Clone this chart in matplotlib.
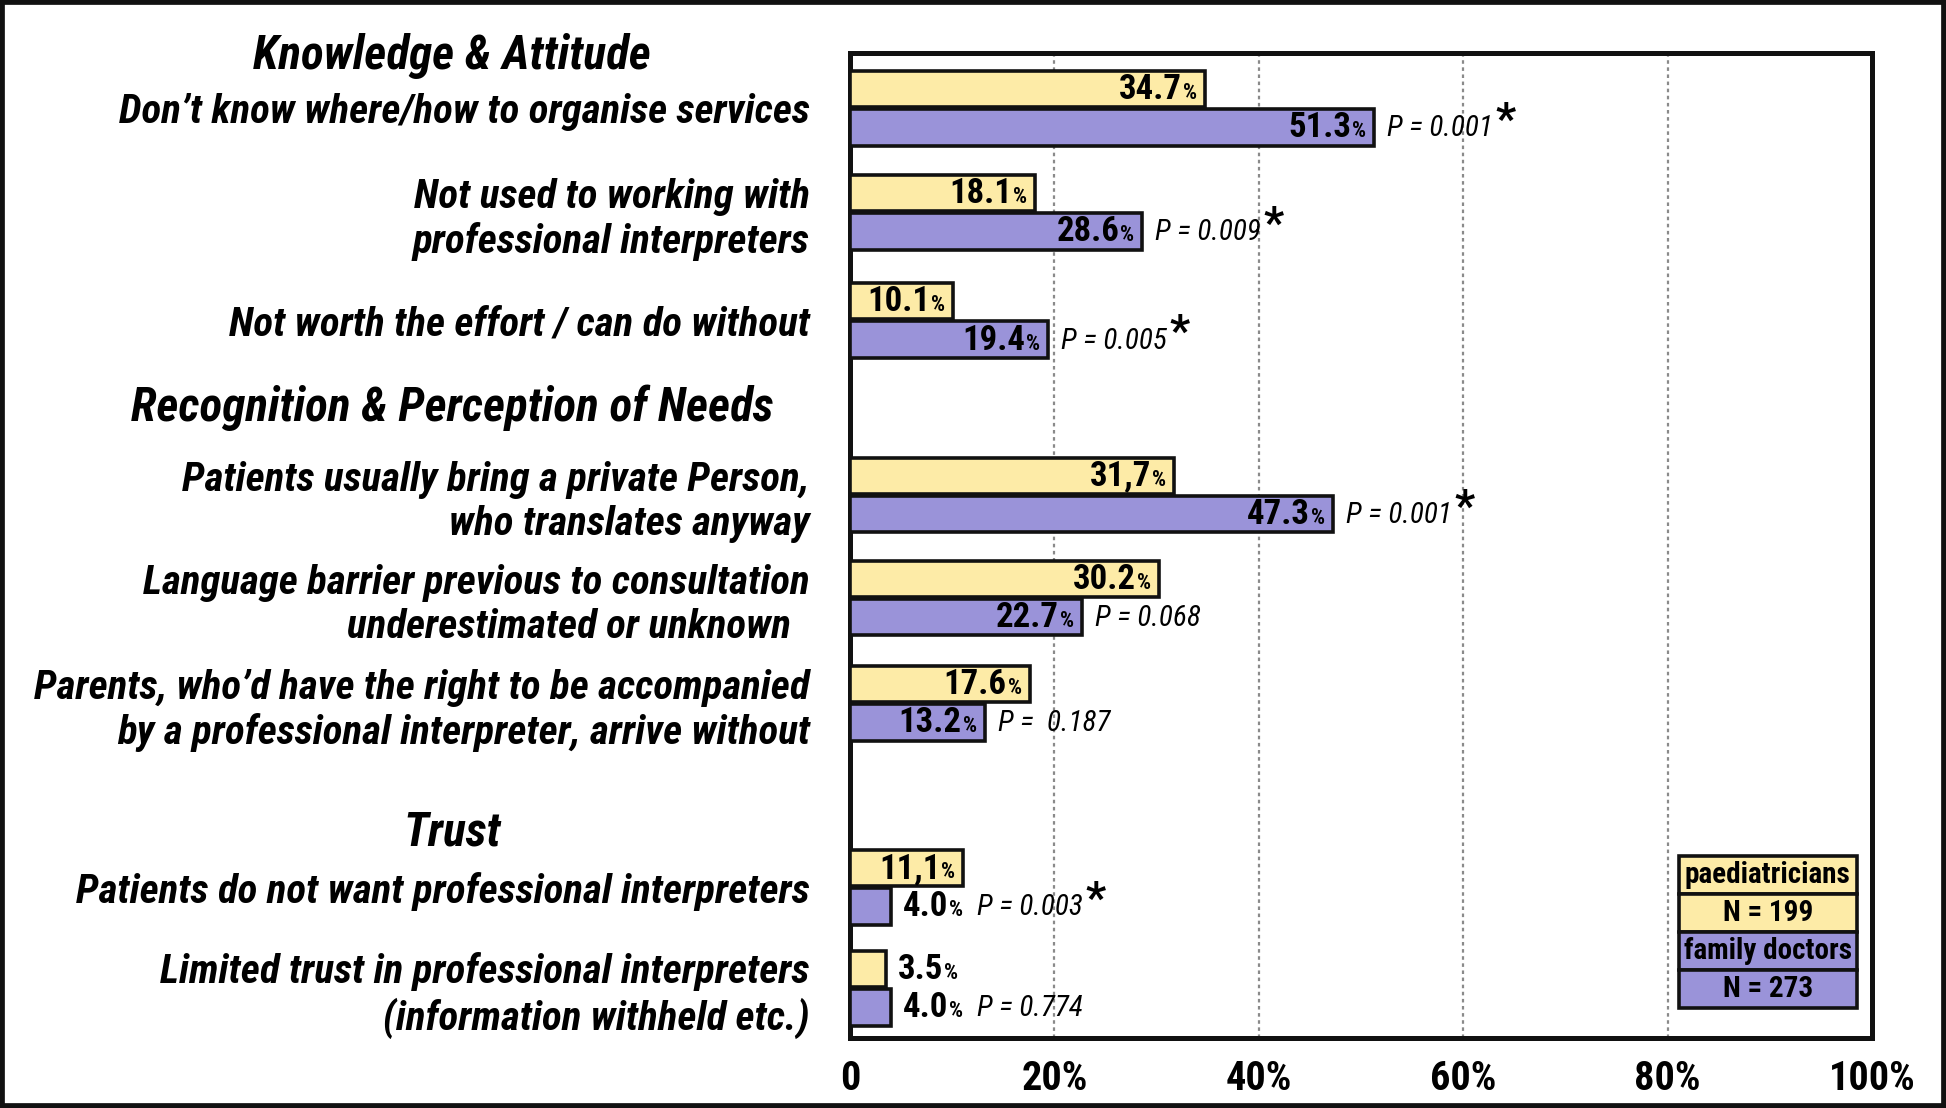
import matplotlib.pyplot as plt
import matplotlib.transforms as mtransforms
from matplotlib import font_manager
from matplotlib.patches import Rectangle

# data
categories = [
    "Don\u2019t know where/how to organise services",
    "Not used to working with\nprofessional interpreters",
    "Not worth the effort / can do without",
    "Patients usually bring a private Person,\nwho translates anyway",
    "Language barrier previous to consultation\nunderestimated or unknown  ",
    "Parents, who\u2019d have the right to be accompanied\nby a professional interpreter, arrive without",
    "Patients do not want professional interpreters",
    "Limited trust in professional interpreters\n(information withheld etc.)",
]
paediatricians = [34.7, 18.1, 10.1, 31.7, 30.2, 17.6, 11.1, 3.5]
family_doctors = [51.3, 28.6, 19.4, 47.3, 22.7, 13.2, 4.0, 4.0]
paed_labels = ["34.7", "18.1", "10.1", "31,7", "30.2", "17.6", "11,1", "3.5"]
fam_labels = ["51.3", "28.6", "19.4", "47.3", "22.7", "13.2", "4.0", "4.0"]
p_values = ["P = 0.001", "P = 0.009", "P = 0.005", "P = 0.001",
            "P = 0.068", "P =  0.187", "P = 0.003", "P = 0.774"]
significant = [True, True, True, True, False, False, True, False]
headers = ["Knowledge & Attitude", "Recognition & Perception of Needs", "Trust"]
legend_rows = ["paediatricians", "N = 199", "family doctors", "N = 273"]
xticks = [0, 20, 40, 60, 80, 100]
xticklabels = ["0", "20%", "40%", "60%", "80%", "100%"]

# layout
ypos = [0, 1, 2.04, 3.72, 4.71, 5.72, 7.49, 8.46]
header_y = [-0.5, 2.88, 6.96]
YELLOW = "#FDEBA7"
PURPLE = "#9A93D9"

# pick the narrowest installed sans font
installed = {f.name for f in font_manager.fontManager.ttflist}
k = 0.8
FONT = "DejaVu Sans"
for name, scale in [("Roboto Condensed", 1.0), ("Liberation Sans Narrow", 1.0),
                    ("DejaVu Sans Condensed", 0.9), ("Roboto", 0.87)]:
    if name in installed:
        FONT, k = name, scale
        break
plt.rcParams["font.family"] = [FONT, "DejaVu Sans"]

fig = plt.figure(figsize=(19.46, 11.08), dpi=100)
ax = fig.add_axes([850 / 1946, 70 / 1108, 1022 / 1946, 985 / 1108])

h = 0.35
off = 0.185
yp = [y - off for y in ypos]
yf = [y + off for y in ypos]
ax.barh(yp, paediatricians, height=h, color=YELLOW, edgecolor="#111111", linewidth=2.6, zorder=3)
ax.barh(yf, family_doctors, height=h, color=PURPLE, edgecolor="#111111", linewidth=2.6, zorder=3)

ax.set_xlim(0, 100)
ax.set_ylim(8.94, -0.53)
for x in [20, 40, 60, 80]:
    ax.axvline(x, color="#8a8a8a", lw=1.6, ls=(0, (1.6, 1.6)), zorder=1)

for s in ax.spines.values():
    s.set_linewidth(3.6)
    s.set_color("#111111")

ax.set_yticks(ypos)
ax.set_yticklabels(categories, fontsize=29.5 * k, fontweight="bold", style="italic",
                   linespacing=1.2)
ax.set_xticks(xticks)
ax.set_xticklabels(xticklabels, fontsize=29 * k, fontweight="bold")
ax.tick_params(axis="y", length=0, pad=29)
ax.tick_params(axis="x", length=0, pad=16)


def value_label(v, y, num):
    # number + small percent sign; returns the right-most artist if outside the bar
    if v >= 6:
        pct = ax.annotate("%", xy=(v, y), xytext=(-8, -10), textcoords="offset pixels",
                          ha="right", va="baseline", fontsize=16 * k, fontweight="bold", zorder=5)
        ax.annotate(num, xy=(0, y), xycoords=(pct, "data"), xytext=(-1, -10),
                    textcoords="offset pixels", ha="right", va="baseline",
                    fontsize=25 * k, fontweight="bold", zorder=5)
        return None
    n = ax.annotate(num, xy=(v, y), xytext=(12, -10), textcoords="offset pixels",
                    ha="left", va="baseline", fontsize=25 * k, fontweight="bold", zorder=5)
    pct = ax.annotate("%", xy=(1, y), xycoords=(n, "data"), xytext=(1, -10),
                      textcoords="offset pixels", ha="left", va="baseline",
                      fontsize=16 * k, fontweight="bold", zorder=5)
    return pct


for i in range(len(categories)):
    value_label(paediatricians[i], yp[i], paed_labels[i])
    last = value_label(family_doctors[i], yf[i], fam_labels[i])
    if last is None:
        pt = ax.annotate(p_values[i], xy=(family_doctors[i], yf[i]), xytext=(13, -9),
                         textcoords="offset pixels", ha="left", va="baseline",
                         fontsize=21 * k, style="italic")
    else:
        pt = ax.annotate(p_values[i], xy=(1, yf[i]), xycoords=(last, "data"), xytext=(14, -9),
                         textcoords="offset pixels", ha="left", va="baseline",
                         fontsize=21 * k, style="italic")
    if significant[i]:
        ax.annotate("*", xy=(1, 1), xycoords=pt, xytext=(2, -7), textcoords="offset pixels",
                    ha="left", va="center", fontsize=32 * k, fontweight="bold")

# group headers
trans = mtransforms.blended_transform_factory(fig.transFigure, ax.transData)
for txt, y in zip(headers, header_y):
    fig.text(452 / 1946, y, txt, transform=trans, ha="center", va="center",
             fontsize=34 * k, fontweight="bold", style="italic")

# legend as a small table
tab = ax.table(cellText=[[r] for r in legend_rows],
               cellColours=[[YELLOW], [YELLOW], [PURPLE], [PURPLE]],
               cellLoc="center", bbox=[0.811, 0.030, 0.174, 0.155], zorder=6)
tab.auto_set_font_size(False)
tab.set_fontsize(21 * k)
for cell in tab.get_celld().values():
    cell.set_linewidth(2.6)
    cell.set_edgecolor("#111111")
    cell.get_text().set_fontweight("bold")

# frame around the whole picture
fig.patches.append(Rectangle((0, 0), 1, 1, transform=fig.transFigure, fill=False,
                             lw=7, ec="#111111"))

fig.savefig("out.png", dpi=100)
